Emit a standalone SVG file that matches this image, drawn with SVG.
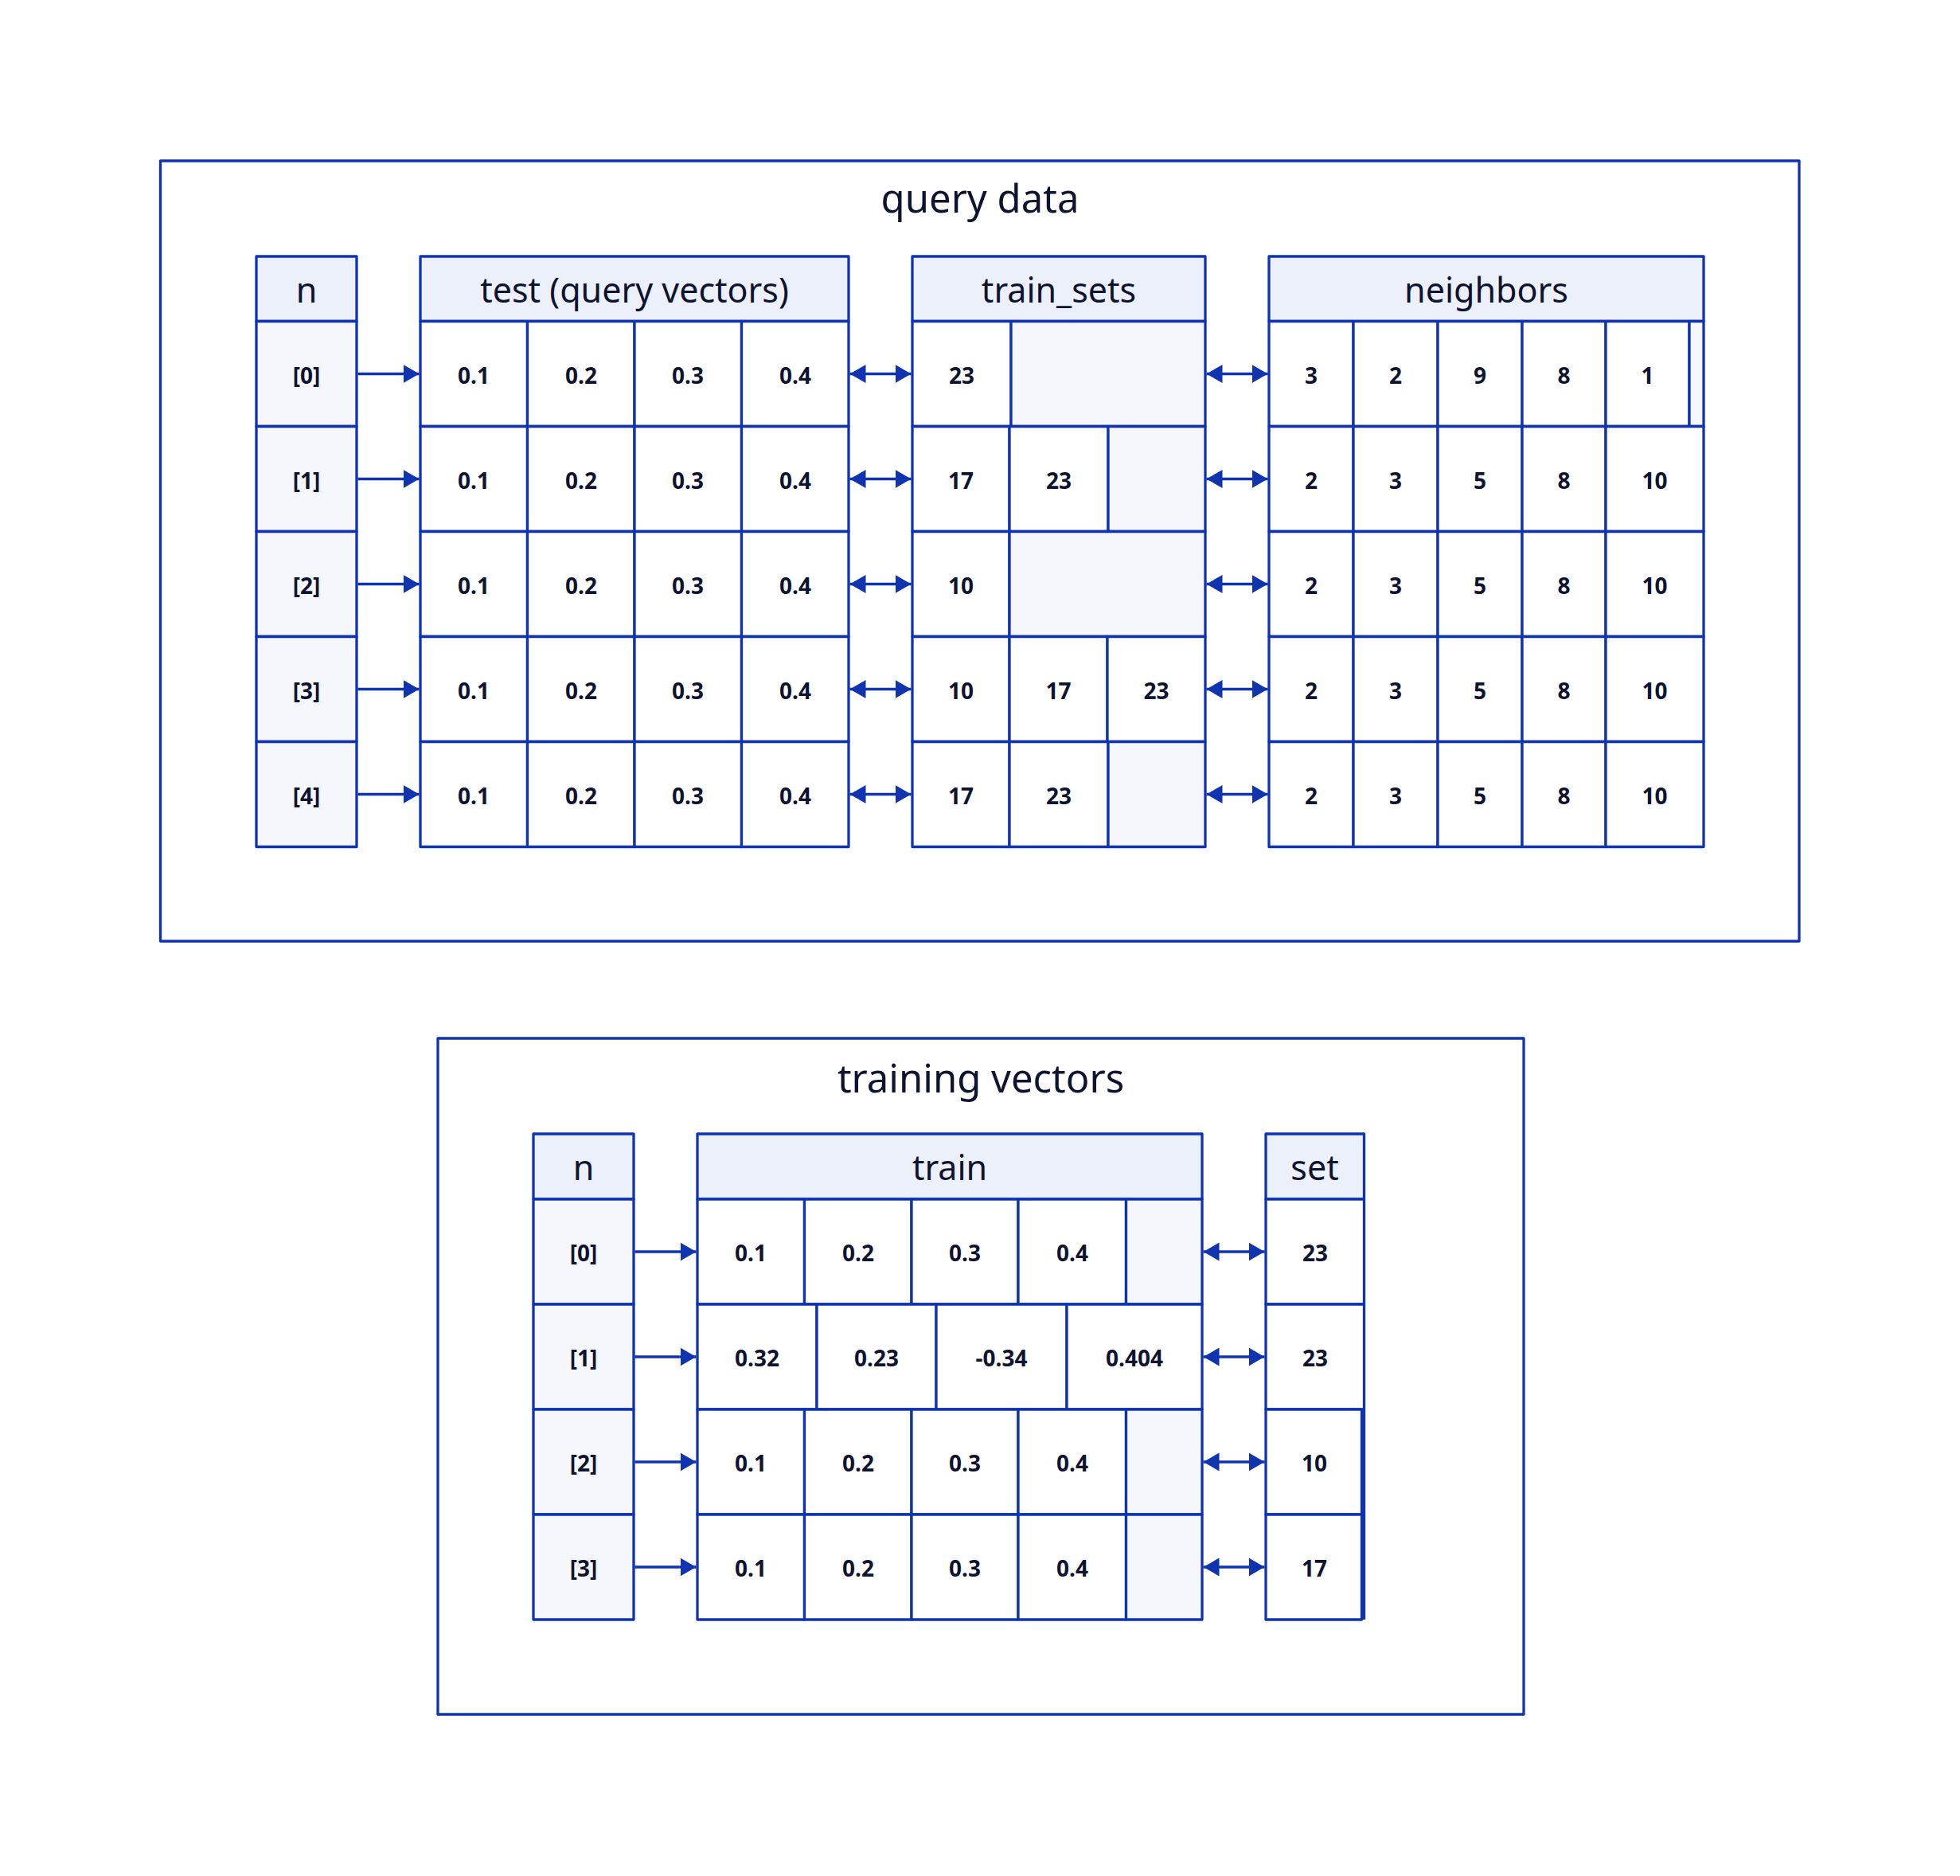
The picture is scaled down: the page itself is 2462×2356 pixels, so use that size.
<svg xmlns="http://www.w3.org/2000/svg" width="2462" height="2356" viewBox="0 0 2462 2356">
<style>
  .frame{fill:none;stroke:#1033b0;stroke-width:3.3;stroke-linejoin:round}
  .hdr{fill:#ecf0fb;stroke:#1033b0;stroke-width:3.3;stroke-linejoin:round}
  .idx{fill:#f5f7fd;stroke:#1033b0;stroke-width:3.3;stroke-linejoin:round}
  .cell{fill:#ffffff;stroke:#1033b0;stroke-width:3.3;stroke-linejoin:round}
  .empty{fill:#f5f7fd;stroke:#1033b0;stroke-width:3.3;stroke-linejoin:round}
  .title{font-family:"Noto Sans","Liberation Sans",sans-serif;font-size:49px;fill:#0e1330;text-anchor:middle}
  .ht{font-family:"Noto Sans","Liberation Sans",sans-serif;font-size:43px;fill:#0e1330;text-anchor:middle}
  .ct{font-family:"Noto Sans","Liberation Sans",sans-serif;font-size:28px;font-weight:bold;fill:#0e1330;text-anchor:middle}
  .conn line{stroke:#1033b0;stroke-width:3.3}
</style>
<defs>
  <marker id="ah" markerUnits="userSpaceOnUse" markerWidth="20" markerHeight="24" refX="20" refY="12" orient="auto-start-reverse">
    <path d="M0,0.5 L20,12 L0,23.5 z" fill="#1033b0"/>
  </marker>
</defs>
<rect width="2462" height="2356" fill="#ffffff"/>

<!-- ===== query data ===== -->
<g id="query-data">
  <rect class="frame" x="201.5" y="202" width="2058.5" height="980"/>
  <text class="title" x="1231" y="267">query data</text>
</g>

<g id="q-n">
  <rect class="hdr" x="322" y="322" width="126" height="81.5"/>
  <text class="ht" x="385" y="380">n</text>
  <rect class="idx" x="322" y="403.5" width="126" height="132"/>
  <rect class="idx" x="322" y="535.5" width="126" height="132"/>
  <rect class="idx" x="322" y="667.5" width="126" height="132"/>
  <rect class="idx" x="322" y="799.5" width="126" height="132"/>
  <rect class="idx" x="322" y="931.5" width="126" height="132"/>
  <text class="ct" x="385" y="481.5">[0]</text>
  <text class="ct" x="385" y="613.5">[1]</text>
  <text class="ct" x="385" y="745.5">[2]</text>
  <text class="ct" x="385" y="877.5">[3]</text>
  <text class="ct" x="385" y="1009.5">[4]</text>
</g>

<g id="q-test">
  <rect class="hdr" x="528" y="322" width="538" height="81.5"/>
  <text class="ht" x="797" y="380">test (query vectors)</text>
  <g>
    <rect class="cell" x="528" y="403.5" width="134.5" height="132"/><rect class="cell" x="662.5" y="403.5" width="134.5" height="132"/><rect class="cell" x="797" y="403.5" width="134.5" height="132"/><rect class="cell" x="931.5" y="403.5" width="134.5" height="132"/>
    <rect class="cell" x="528" y="535.5" width="134.5" height="132"/><rect class="cell" x="662.5" y="535.5" width="134.5" height="132"/><rect class="cell" x="797" y="535.5" width="134.5" height="132"/><rect class="cell" x="931.5" y="535.5" width="134.5" height="132"/>
    <rect class="cell" x="528" y="667.5" width="134.5" height="132"/><rect class="cell" x="662.5" y="667.5" width="134.5" height="132"/><rect class="cell" x="797" y="667.5" width="134.5" height="132"/><rect class="cell" x="931.5" y="667.5" width="134.5" height="132"/>
    <rect class="cell" x="528" y="799.5" width="134.5" height="132"/><rect class="cell" x="662.5" y="799.5" width="134.5" height="132"/><rect class="cell" x="797" y="799.5" width="134.5" height="132"/><rect class="cell" x="931.5" y="799.5" width="134.5" height="132"/>
    <rect class="cell" x="528" y="931.5" width="134.5" height="132"/><rect class="cell" x="662.5" y="931.5" width="134.5" height="132"/><rect class="cell" x="797" y="931.5" width="134.5" height="132"/><rect class="cell" x="931.5" y="931.5" width="134.5" height="132"/>
  </g>
  <g>
    <text class="ct" x="595" y="481.5">0.1</text><text class="ct" x="730" y="481.5">0.2</text><text class="ct" x="864" y="481.5">0.3</text><text class="ct" x="999" y="481.5">0.4</text>
    <text class="ct" x="595" y="613.5">0.1</text><text class="ct" x="730" y="613.5">0.2</text><text class="ct" x="864" y="613.5">0.3</text><text class="ct" x="999" y="613.5">0.4</text>
    <text class="ct" x="595" y="745.5">0.1</text><text class="ct" x="730" y="745.5">0.2</text><text class="ct" x="864" y="745.5">0.3</text><text class="ct" x="999" y="745.5">0.4</text>
    <text class="ct" x="595" y="877.5">0.1</text><text class="ct" x="730" y="877.5">0.2</text><text class="ct" x="864" y="877.5">0.3</text><text class="ct" x="999" y="877.5">0.4</text>
    <text class="ct" x="595" y="1009.5">0.1</text><text class="ct" x="730" y="1009.5">0.2</text><text class="ct" x="864" y="1009.5">0.3</text><text class="ct" x="999" y="1009.5">0.4</text>
  </g>
</g>

<g id="q-train-sets">
  <rect class="hdr" x="1146" y="322" width="368" height="81.5"/>
  <text class="ht" x="1330" y="380">train_sets</text>
  <rect class="cell" x="1146" y="403.5" width="124" height="132"/><rect class="empty" x="1270" y="403.5" width="244" height="132"/>
  <rect class="cell" x="1146" y="535.5" width="122" height="132"/><rect class="cell" x="1268" y="535.5" width="124" height="132"/><rect class="empty" x="1392" y="535.5" width="122" height="132"/>
  <rect class="cell" x="1146" y="667.5" width="122" height="132"/><rect class="empty" x="1268" y="667.5" width="246" height="132"/>
  <rect class="cell" x="1146" y="799.5" width="122" height="132"/><rect class="cell" x="1268" y="799.5" width="123" height="132"/><rect class="cell" x="1391" y="799.5" width="123" height="132"/>
  <rect class="cell" x="1146" y="931.5" width="122" height="132"/><rect class="cell" x="1268" y="931.5" width="124" height="132"/><rect class="empty" x="1392" y="931.5" width="122" height="132"/>
  <text class="ct" x="1208" y="481.5">23</text>
  <text class="ct" x="1207" y="613.5">17</text><text class="ct" x="1330" y="613.5">23</text>
  <text class="ct" x="1207" y="745.5">10</text>
  <text class="ct" x="1207" y="877.5">10</text><text class="ct" x="1329.5" y="877.5">17</text><text class="ct" x="1452.5" y="877.5">23</text>
  <text class="ct" x="1207" y="1009.5">17</text><text class="ct" x="1330" y="1009.5">23</text>
</g>

<g id="q-neighbors">
  <rect class="hdr" x="1594" y="322" width="546" height="81.5"/>
  <text class="ht" x="1867" y="380">neighbors</text>
  <rect class="cell" x="1594" y="403.5" width="106" height="132"/><rect class="cell" x="1700" y="403.5" width="106" height="132"/><rect class="cell" x="1806" y="403.5" width="106" height="132"/><rect class="cell" x="1912" y="403.5" width="105" height="132"/><rect class="cell" x="2017" y="403.5" width="105" height="132"/><rect class="empty" x="2122" y="403.5" width="18" height="132"/>
  <rect class="cell" x="1594" y="535.5" width="106" height="132"/><rect class="cell" x="1700" y="535.5" width="106" height="132"/><rect class="cell" x="1806" y="535.5" width="106" height="132"/><rect class="cell" x="1912" y="535.5" width="105" height="132"/><rect class="cell" x="2017" y="535.5" width="123" height="132"/>
  <rect class="cell" x="1594" y="667.5" width="106" height="132"/><rect class="cell" x="1700" y="667.5" width="106" height="132"/><rect class="cell" x="1806" y="667.5" width="106" height="132"/><rect class="cell" x="1912" y="667.5" width="105" height="132"/><rect class="cell" x="2017" y="667.5" width="123" height="132"/>
  <rect class="cell" x="1594" y="799.5" width="106" height="132"/><rect class="cell" x="1700" y="799.5" width="106" height="132"/><rect class="cell" x="1806" y="799.5" width="106" height="132"/><rect class="cell" x="1912" y="799.5" width="105" height="132"/><rect class="cell" x="2017" y="799.5" width="123" height="132"/>
  <rect class="cell" x="1594" y="931.5" width="106" height="132"/><rect class="cell" x="1700" y="931.5" width="106" height="132"/><rect class="cell" x="1806" y="931.5" width="106" height="132"/><rect class="cell" x="1912" y="931.5" width="105" height="132"/><rect class="cell" x="2017" y="931.5" width="123" height="132"/>
  <text class="ct" x="1647" y="481.5">3</text><text class="ct" x="1753" y="481.5">2</text><text class="ct" x="1859" y="481.5">9</text><text class="ct" x="1964.5" y="481.5">8</text><text class="ct" x="2069.5" y="481.5">1</text>
  <text class="ct" x="1647" y="613.5">2</text><text class="ct" x="1753" y="613.5">3</text><text class="ct" x="1859" y="613.5">5</text><text class="ct" x="1964.5" y="613.5">8</text><text class="ct" x="2078.5" y="613.5">10</text>
  <text class="ct" x="1647" y="745.5">2</text><text class="ct" x="1753" y="745.5">3</text><text class="ct" x="1859" y="745.5">5</text><text class="ct" x="1964.5" y="745.5">8</text><text class="ct" x="2078.5" y="745.5">10</text>
  <text class="ct" x="1647" y="877.5">2</text><text class="ct" x="1753" y="877.5">3</text><text class="ct" x="1859" y="877.5">5</text><text class="ct" x="1964.5" y="877.5">8</text><text class="ct" x="2078.5" y="877.5">10</text>
  <text class="ct" x="1647" y="1009.5">2</text><text class="ct" x="1753" y="1009.5">3</text><text class="ct" x="1859" y="1009.5">5</text><text class="ct" x="1964.5" y="1009.5">8</text><text class="ct" x="2078.5" y="1009.5">10</text>
</g>

<!-- ===== training vectors ===== -->
<g id="training-vectors">
  <rect class="frame" x="550" y="1304" width="1364" height="849"/>
  <text class="title" x="1232" y="1372">training vectors</text>
</g>

<g id="t-n">
  <rect class="hdr" x="670" y="1424" width="126" height="82"/>
  <text class="ht" x="733" y="1482">n</text>
  <rect class="idx" x="670" y="1506" width="126" height="132"/>
  <rect class="idx" x="670" y="1638" width="126" height="132"/>
  <rect class="idx" x="670" y="1770" width="126" height="132"/>
  <rect class="idx" x="670" y="1902" width="126" height="132"/>
  <text class="ct" x="733" y="1584">[0]</text>
  <text class="ct" x="733" y="1716">[1]</text>
  <text class="ct" x="733" y="1848">[2]</text>
  <text class="ct" x="733" y="1980">[3]</text>
</g>

<g id="t-train">
  <rect class="hdr" x="876" y="1424" width="634" height="82"/>
  <text class="ht" x="1193" y="1482">train</text>
  <rect class="cell" x="876" y="1506" width="134.5" height="132"/><rect class="cell" x="1010.5" y="1506" width="134.5" height="132"/><rect class="cell" x="1145" y="1506" width="134" height="132"/><rect class="cell" x="1279" y="1506" width="135.5" height="132"/><rect class="empty" x="1414.5" y="1506" width="95.5" height="132"/>
  <rect class="cell" x="876" y="1638" width="150" height="132"/><rect class="cell" x="1026" y="1638" width="150" height="132"/><rect class="cell" x="1176" y="1638" width="164" height="132"/><rect class="cell" x="1340" y="1638" width="170" height="132"/>
  <rect class="cell" x="876" y="1770" width="134.5" height="132"/><rect class="cell" x="1010.5" y="1770" width="134.5" height="132"/><rect class="cell" x="1145" y="1770" width="134" height="132"/><rect class="cell" x="1279" y="1770" width="135.5" height="132"/><rect class="empty" x="1414.5" y="1770" width="95.5" height="132"/>
  <rect class="cell" x="876" y="1902" width="134.5" height="132"/><rect class="cell" x="1010.5" y="1902" width="134.5" height="132"/><rect class="cell" x="1145" y="1902" width="134" height="132"/><rect class="cell" x="1279" y="1902" width="135.5" height="132"/><rect class="empty" x="1414.5" y="1902" width="95.5" height="132"/>
  <text class="ct" x="943" y="1584">0.1</text><text class="ct" x="1078" y="1584">0.2</text><text class="ct" x="1212" y="1584">0.3</text><text class="ct" x="1347" y="1584">0.4</text>
  <text class="ct" x="951" y="1716">0.32</text><text class="ct" x="1101" y="1716">0.23</text><text class="ct" x="1258" y="1716">-0.34</text><text class="ct" x="1425" y="1716">0.404</text>
  <text class="ct" x="943" y="1848">0.1</text><text class="ct" x="1078" y="1848">0.2</text><text class="ct" x="1212" y="1848">0.3</text><text class="ct" x="1347" y="1848">0.4</text>
  <text class="ct" x="943" y="1980">0.1</text><text class="ct" x="1078" y="1980">0.2</text><text class="ct" x="1212" y="1980">0.3</text><text class="ct" x="1347" y="1980">0.4</text>
</g>

<g id="t-set">
  <rect class="hdr" x="1590" y="1424" width="123.5" height="82"/>
  <text class="ht" x="1651.5" y="1482">set</text>
  <rect class="cell" x="1590" y="1506" width="123.5" height="132"/>
  <rect class="cell" x="1590" y="1638" width="123.5" height="132"/>
  <rect class="cell" x="1590" y="1770" width="120.5" height="132"/>
  <rect class="cell" x="1590" y="1902" width="120.5" height="132"/>
  <line x1="1713.5" y1="1770" x2="1713.5" y2="2034" stroke="#1033b0" stroke-width="3.3"/>
  <text class="ct" x="1652" y="1584">23</text>
  <text class="ct" x="1652" y="1716">23</text>
  <text class="ct" x="1651" y="1848">10</text>
  <text class="ct" x="1651" y="1980">17</text>
</g>

<g id="connectors" class="conn">
  <line x1="449.5" y1="469.5" x2="526.5" y2="469.5" marker-end="url(#ah)"/>
  <line x1="449.5" y1="601.5" x2="526.5" y2="601.5" marker-end="url(#ah)"/>
  <line x1="449.5" y1="733.5" x2="526.5" y2="733.5" marker-end="url(#ah)"/>
  <line x1="449.5" y1="865.5" x2="526.5" y2="865.5" marker-end="url(#ah)"/>
  <line x1="449.5" y1="997.5" x2="526.5" y2="997.5" marker-end="url(#ah)"/>

  <line x1="1067.5" y1="469.5" x2="1144.5" y2="469.5" marker-start="url(#ah)" marker-end="url(#ah)"/>
  <line x1="1067.5" y1="601.5" x2="1144.5" y2="601.5" marker-start="url(#ah)" marker-end="url(#ah)"/>
  <line x1="1067.5" y1="733.5" x2="1144.5" y2="733.5" marker-start="url(#ah)" marker-end="url(#ah)"/>
  <line x1="1067.5" y1="865.5" x2="1144.5" y2="865.5" marker-start="url(#ah)" marker-end="url(#ah)"/>
  <line x1="1067.5" y1="997.5" x2="1144.5" y2="997.5" marker-start="url(#ah)" marker-end="url(#ah)"/>

  <line x1="1515.5" y1="469.5" x2="1592.5" y2="469.5" marker-start="url(#ah)" marker-end="url(#ah)"/>
  <line x1="1515.5" y1="601.5" x2="1592.5" y2="601.5" marker-start="url(#ah)" marker-end="url(#ah)"/>
  <line x1="1515.5" y1="733.5" x2="1592.5" y2="733.5" marker-start="url(#ah)" marker-end="url(#ah)"/>
  <line x1="1515.5" y1="865.5" x2="1592.5" y2="865.5" marker-start="url(#ah)" marker-end="url(#ah)"/>
  <line x1="1515.5" y1="997.5" x2="1592.5" y2="997.5" marker-start="url(#ah)" marker-end="url(#ah)"/>

  <line x1="797.5" y1="1572" x2="874.5" y2="1572" marker-end="url(#ah)"/>
  <line x1="797.5" y1="1704" x2="874.5" y2="1704" marker-end="url(#ah)"/>
  <line x1="797.5" y1="1836" x2="874.5" y2="1836" marker-end="url(#ah)"/>
  <line x1="797.5" y1="1968" x2="874.5" y2="1968" marker-end="url(#ah)"/>

  <line x1="1511.5" y1="1572" x2="1588.5" y2="1572" marker-start="url(#ah)" marker-end="url(#ah)"/>
  <line x1="1511.5" y1="1704" x2="1588.5" y2="1704" marker-start="url(#ah)" marker-end="url(#ah)"/>
  <line x1="1511.5" y1="1836" x2="1588.5" y2="1836" marker-start="url(#ah)" marker-end="url(#ah)"/>
  <line x1="1511.5" y1="1968" x2="1588.5" y2="1968" marker-start="url(#ah)" marker-end="url(#ah)"/>
</g>
</svg>
